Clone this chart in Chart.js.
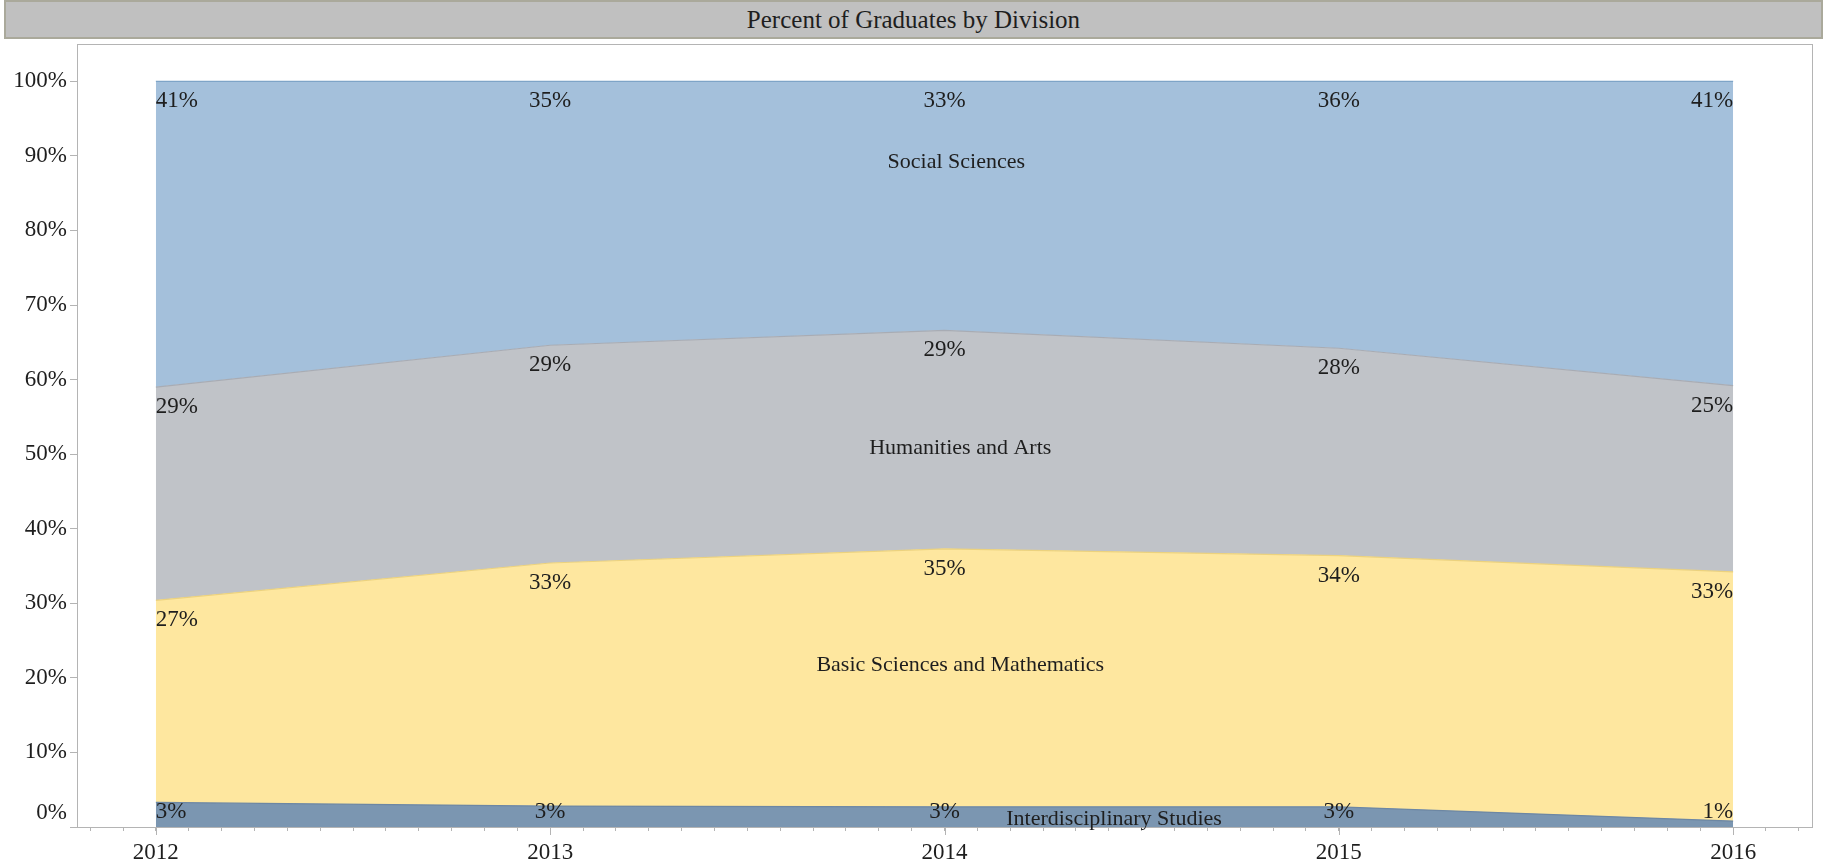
<!DOCTYPE html>
<html>
<head>
<meta charset="utf-8">
<script src="https://cdn.jsdelivr.net/npm/chart.js@4.4.1/dist/chart.umd.min.js"></script>
<style>
  body { margin: 0; background: #fff; font-family: "Liberation Serif", serif; }
  #title {
    position: absolute; left: 4px; top: 0; width: 1815px; height: 35px;
    background: #c0c0c0; border: 2px solid #aaa99b;
    text-align: center; font-size: 25px; line-height: 35px; color: #1e1e1e;
  }
  #frame { position: absolute; left: 77px; top: 44px; width: 1734px; height: 782px; border: 1px solid #b4b4b4; }
  #wrap { position: absolute; left: 0; top: 0; width: 1833px; height: 865px; }
</style>
</head>
<body>
<div id="title">Percent of Graduates by Division</div>
<div id="frame"></div>
<div id="wrap"><canvas id="chart"></canvas></div>
<script>
const years = [2012, 2013, 2014, 2015, 2016];
const interdisciplinary = [3.3, 2.8, 2.7, 2.7, 0.8];
const basicSciences = [27.1, 32.6, 34.6, 33.7, 33.4];
const humanities = [28.6, 29.2, 29.3, 27.8, 25.0];
const socialSciences = [41.0, 35.4, 33.4, 35.8, 40.8];
const yTicks = [0, 10, 20, 30, 40, 50, 60, 70, 80, 90, 100];

const seriesNames = ['Interdisciplinary Studies', 'Basic Sciences and Mathematics', 'Humanities and Arts', 'Social Sciences'];
const nameX = [2014.43, 2014.04, 2014.04, 2014.03];
const nameY = [1.0, 21.7, 50.8, 89.1];

const fills = ['#7b96b1', '#fee79f', '#c0c3c8', '#a4c0db'];
const borders = ['#6d87a3', '#ecd27e', '#a8acb4', '#7ea4c7'];
const FONT = '"Liberation Serif", serif';

function makeSet(i, values) {
  return {
    label: seriesNames[i],
    data: values.map((v, j) => ({ x: years[j], y: v })),
    backgroundColor: fills[i],
    borderColor: borders[i],
    borderWidth: 1.2,
    pointRadius: 0,
    tension: 0,
    fill: i === 0 ? 'origin' : '-1',
  };
}

// value labels under each boundary, plus series names
const labelPlugin = {
  id: 'labels',
  afterDatasetsDraw(chart) {
    const ctx = chart.ctx;
    const xs = chart.scales.x, ys = chart.scales.y;
    ctx.save();
    ctx.fillStyle = '#1e1e1e';
    ctx.font = '23px ' + FONT;
    ctx.textBaseline = 'alphabetic';
    chart.data.datasets.forEach((ds, i) => {
      const meta = chart.getDatasetMeta(i);
      meta.data.forEach((pt, j) => {
        const txt = Math.round(ds.data[j].y) + '%';
        ctx.textAlign = j === 0 ? 'left' : (j === years.length - 1 ? 'right' : 'center');
        const y = Math.min(pt.y + 26, ys.bottom - 9);
        ctx.fillText(txt, pt.x, y);
      });
    });
    ctx.font = '22px ' + FONT;
    ctx.textAlign = 'center';
    ctx.textBaseline = 'middle';
    seriesNames.forEach((n, i) => {
      ctx.fillText(n, xs.getPixelForValue(nameX[i]), ys.getPixelForValue(nameY[i]));
    });
    // longer marks on the year ticks
    ctx.strokeStyle = '#b4b4b4';
    ctx.lineWidth = 1;
    years.forEach(yr => {
      const x = Math.round(xs.getPixelForValue(yr)) + 0.5;
      ctx.beginPath();
      ctx.moveTo(x, ys.bottom);
      ctx.lineTo(x, ys.bottom + 8);
      ctx.stroke();
    });
    ctx.restore();
  }
};

new Chart(document.getElementById('chart'), {
  type: 'line',
  data: {
    datasets: [
      makeSet(0, interdisciplinary),
      makeSet(1, basicSciences),
      makeSet(2, humanities),
      makeSet(3, socialSciences),
    ]
  },
  options: {
    responsive: true,
    maintainAspectRatio: false,
    animation: false,
    layout: { padding: { left: 0, top: 44, right: 21, bottom: 0 } },
    plugins: { legend: { display: false }, tooltip: { enabled: false } },
    scales: {
      x: {
        type: 'linear',
        min: 2011.8,
        max: 2016.2,
        afterBuildTicks: scale => {
          const t = [];
          for (let k = Math.ceil(scale.min * 12); k <= Math.floor(scale.max * 12); k++) t.push({ value: k / 12 });
          scale.ticks = t;
        },
        afterFit: scale => { scale.height = 38; },
        ticks: {
          autoSkip: false,
          maxRotation: 0,
          padding: 8,
          color: '#1e1e1e',
          font: { family: FONT, size: 23 },
          callback: v => Math.abs(v - Math.round(v)) < 1e-6 ? String(Math.round(v)) : '',
        },
        grid: { drawOnChartArea: false, tickLength: 4, color: '#b4b4b4' },
        border: { color: '#b4b4b4' },
      },
      y: {
        stacked: true,
        min: 0,
        max: 105,
        afterBuildTicks: scale => { scale.ticks = yTicks.map(v => ({ value: v })); },
        afterFit: scale => { scale.width = 77; },
        ticks: {
          padding: 3,
          color: '#1e1e1e',
          font: { family: FONT, size: 23, lineHeight: 1.2 },
          callback: v => v === 0 ? ['0%', ''] : v + '%',
        },
        grid: { drawOnChartArea: false, tickLength: 7, color: '#b4b4b4' },
        border: { color: '#b4b4b4' },
      }
    }
  },
  plugins: [labelPlugin]
});
</script>
</body>
</html>
